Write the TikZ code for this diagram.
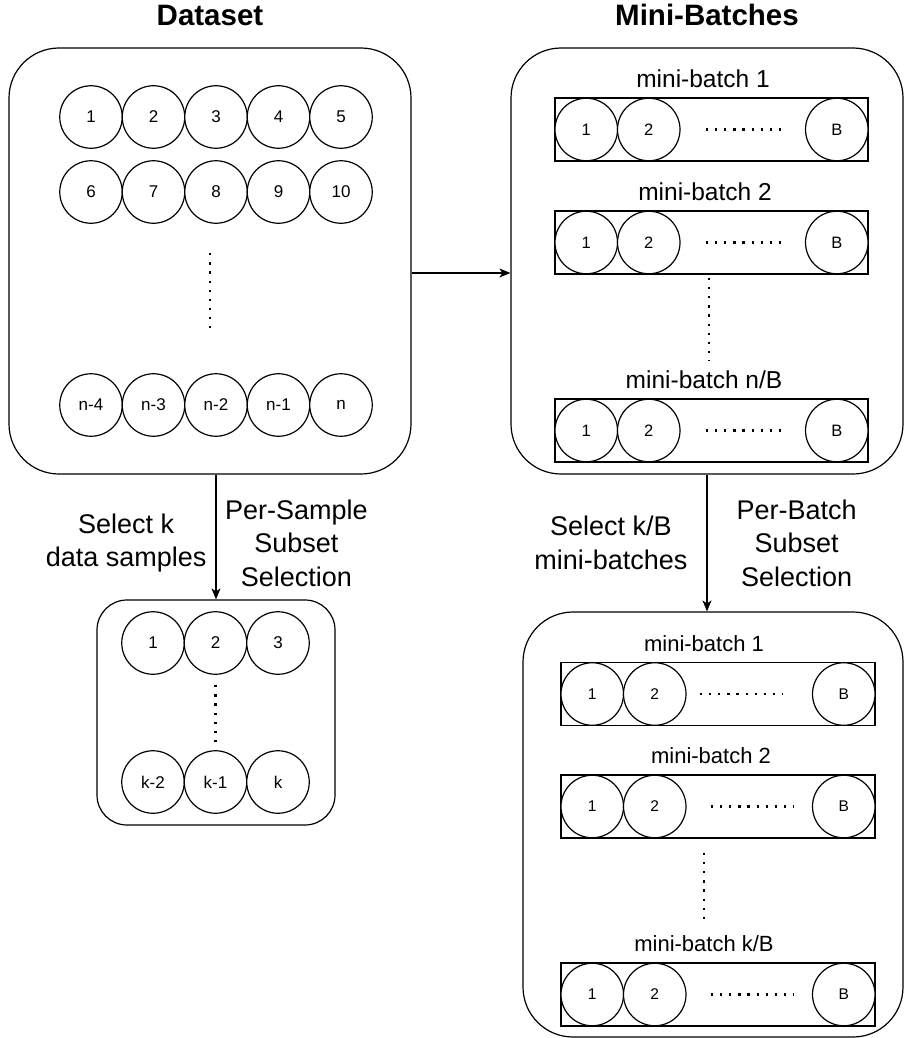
\documentclass[tikz,border=0pt]{standalone}
\usepackage{fontspec}
\setmainfont{Liberation Sans}
\usepackage{tikz}
\usetikzlibrary{calc}
\usetikzlibrary{positioning,arrows.meta}
\tikzset{
	groupnode/.style  = {shape=rectangle, draw, line width=1.2pt,
		rounded corners=50pt, inner sep=0pt},
	samplenode/.style = {shape=circle, draw, fill=white, line width=1.2pt,
		minimum size=62.5pt, inner sep=0pt, outer sep=0pt,
		font=\fontsize{17}{20}\selectfont},
	itemnode/.style   = {samplenode, font=\fontsize{16.5}{20}\selectfont},
	lowitem/.style    = {samplenode, font=\fontsize{15.5}{19}\selectfont},
	batchnode/.style  = {shape=rectangle, draw, line width=1.2pt,
		minimum width=313pt, minimum height=63pt, inner sep=0pt, outer sep=0pt},
	batchlabel/.style = {inner sep=0pt, text depth=0pt,
		font=\fontsize{24.5}{28}\selectfont},
	lowlabel/.style   = {batchlabel, font=\fontsize{22}{26}\selectfont},
	titlenode/.style  = {inner sep=0pt, text depth=0pt,
		font=\bfseries\fontsize{29.5}{34}\selectfont},
	labelnode/.style  = {align=center, inner sep=0pt,
		font=\fontsize{27}{33.5}\selectfont},
	flow/.style       = {draw, line width=1.2pt,
		-{Stealth[length=11pt, width=9pt, inset=3pt]}},
	dotline/.style    = {line width=2.2pt, dash pattern=on 2.2pt off 6.9pt}
}

\begin{document}
\begin{tikzpicture}[x=1pt, y=-1pt]
\useasboundingbox (0,0) rectangle (904,1038);

% dataset
\node [groupnode, minimum width=402pt, minimum height=426pt] (ds) at (210,261) {};
\node [titlenode, above=22pt of ds] (dstitle) {Dataset};
\node [samplenode] (d1) at (91,117) {1};
\node [samplenode, right=0pt of d1] (d2) {2};
\node [samplenode, right=0pt of d2] (d3) {3};
\node [samplenode, right=0pt of d3] (d4) {4};
\node [samplenode, right=0pt of d4] (d5) {5};
\node [samplenode, below=12.5pt of d1] (d6) {6};
\node [samplenode, right=0pt of d6] (d7) {7};
\node [samplenode, right=0pt of d7] (d8) {8};
\node [samplenode, right=0pt of d8] (d9) {9};
\node [samplenode, right=0pt of d9] (d10) {10};
\node [samplenode] (dn4) at (91,405) {n-4};
\node [samplenode, right=0pt of dn4] (dn3) {n-3};
\node [samplenode, right=0pt of dn3] (dn2) {n-2};
\node [samplenode, right=0pt of dn2] (dn1) {n-1};
\node [samplenode, right=0pt of dn1] (dn) {n};
\draw [dotline] ([xshift=-6pt, yshift=-30pt]d8.south) -- ([xshift=-6pt, yshift=39pt]dn2.north);

% mini-batches
\node [groupnode, minimum width=392pt, minimum height=426pt] (mb) at (707,261) {};
\node [titlenode, above=22pt of mb] (mbtitle) {Mini-Batches};
\node [batchnode] (mb1) at (711.5,129.5) {};
\node [batchlabel, above=10pt of mb1, xshift=-8.5pt] (mb1lbl) {mini-batch 1};
\node [itemnode, right=0pt of mb1.west] (mb1a) {1};
\node [itemnode, right=0pt of mb1a] (mb1b) {2};
\node [itemnode, left=0pt of mb1.east] (mb1c) {B};
\draw [dotline] ([xshift=26pt]mb1b.east) -- ([xshift=-19pt]mb1c.west);
\node [batchnode] (mb2) at (711.5,242.5) {};
\node [batchlabel, above=10pt of mb2, xshift=-6.5pt] (mb2lbl) {mini-batch 2};
\node [itemnode, right=0pt of mb2.west] (mb2a) {1};
\node [itemnode, right=0pt of mb2a] (mb2b) {2};
\node [itemnode, left=0pt of mb2.east] (mb2c) {B};
\draw [dotline] ([xshift=26pt]mb2b.east) -- ([xshift=-19pt]mb2c.west);
\node [batchnode] (mb3) at (711.5,430.5) {};
\node [batchlabel, above=10pt of mb3, xshift=-7.5pt] (mb3lbl) {mini-batch n/B};
\node [itemnode, right=0pt of mb3.west] (mb3a) {1};
\node [itemnode, right=0pt of mb3a] (mb3b) {2};
\node [itemnode, left=0pt of mb3.east] (mb3c) {B};
\draw [dotline] ([xshift=26pt]mb3b.east) -- ([xshift=-19pt]mb3c.west);
\draw [dotline] ([xshift=-2.5pt, yshift=-4pt]mb2.south) -- ([xshift=-2.5pt, yshift=39pt]mb3.north);

% per-sample subset
\node [groupnode, rounded corners=30pt, minimum width=238pt, minimum height=225pt] (ss) at (216,712.5) {};
\node [samplenode] (s1) at (153,643) {1};
\node [samplenode, right=0pt of s1] (s2) {2};
\node [samplenode, right=0pt of s2] (s3) {3};
\node [samplenode] (sk2) at (153,782) {k-2};
\node [samplenode, right=0pt of sk2] (sk1) {k-1};
\node [samplenode, right=0pt of sk1] (sk) {k};
\draw [dotline] ([yshift=-11pt]s2.south) -- ([yshift=3pt]sk1.north);

% per-batch subset
\node [groupnode, minimum width=380pt, minimum height=425pt] (sb) at (713,824.5) {};
\node [batchnode, minimum width=314pt] (sb1) at (718,694) {};
\node [lowlabel, above=11pt of sb1, xshift=-14pt] (sb1lbl) {mini-batch 1};
\node [lowitem, right=0pt of sb1.west] (sb1a) {1};
\node [lowitem, right=0pt of sb1a] (sb1b) {2};
\node [lowitem, left=0pt of sb1.east] (sb1c) {B};
\draw [dotline] ([xshift=14pt]sb1b.east) -- ([xshift=-30pt]sb1c.west);
\node [batchnode, minimum width=314pt] (sb2) at (718,806.5) {};
\node [lowlabel, above=11pt of sb2, xshift=-7pt] (sb2lbl) {mini-batch 2};
\node [lowitem, right=0pt of sb2.west] (sb2a) {1};
\node [lowitem, right=0pt of sb2a] (sb2b) {2};
\node [lowitem, left=0pt of sb2.east] (sb2c) {B};
\draw [dotline] ([xshift=25pt]sb2b.east) -- ([xshift=-19pt]sb2c.west);
\node [batchnode, minimum width=314pt] (sb3) at (718,994.5) {};
\node [lowlabel, above=11pt of sb3, xshift=-14pt] (sb3lbl) {mini-batch k/B};
\node [lowitem, right=0pt of sb3.west] (sb3a) {1};
\node [lowitem, right=0pt of sb3a] (sb3b) {2};
\node [lowitem, left=0pt of sb3.east] (sb3c) {B};
\draw [dotline] ([xshift=25pt]sb3b.east) -- ([xshift=-19pt]sb3c.west);
\draw [dotline] ([xshift=-14pt, yshift=-15pt]sb2.south) -- ([xshift=-14pt, yshift=39pt]sb3.north);

% connectors
\draw [flow] ([yshift=-12pt]ds.east) -- ([yshift=-12pt]mb.west);
\draw [flow] (ss.north |- ds.south) --
	node [labelnode, pos=0.55, left=9pt] {Select k\\data samples}
	node [labelnode, pos=0.55, right=8.5pt] {Per-Sample\\Subset\\Selection} (ss.north);
\draw [flow] (mb.south) --
	node [labelnode, left=19pt] {Select k/B\\mini-batches}
	node [labelnode, right=29pt] {Per-Batch\\Subset\\Selection} (mb.south |- sb.north);
\end{tikzpicture}
\end{document}
